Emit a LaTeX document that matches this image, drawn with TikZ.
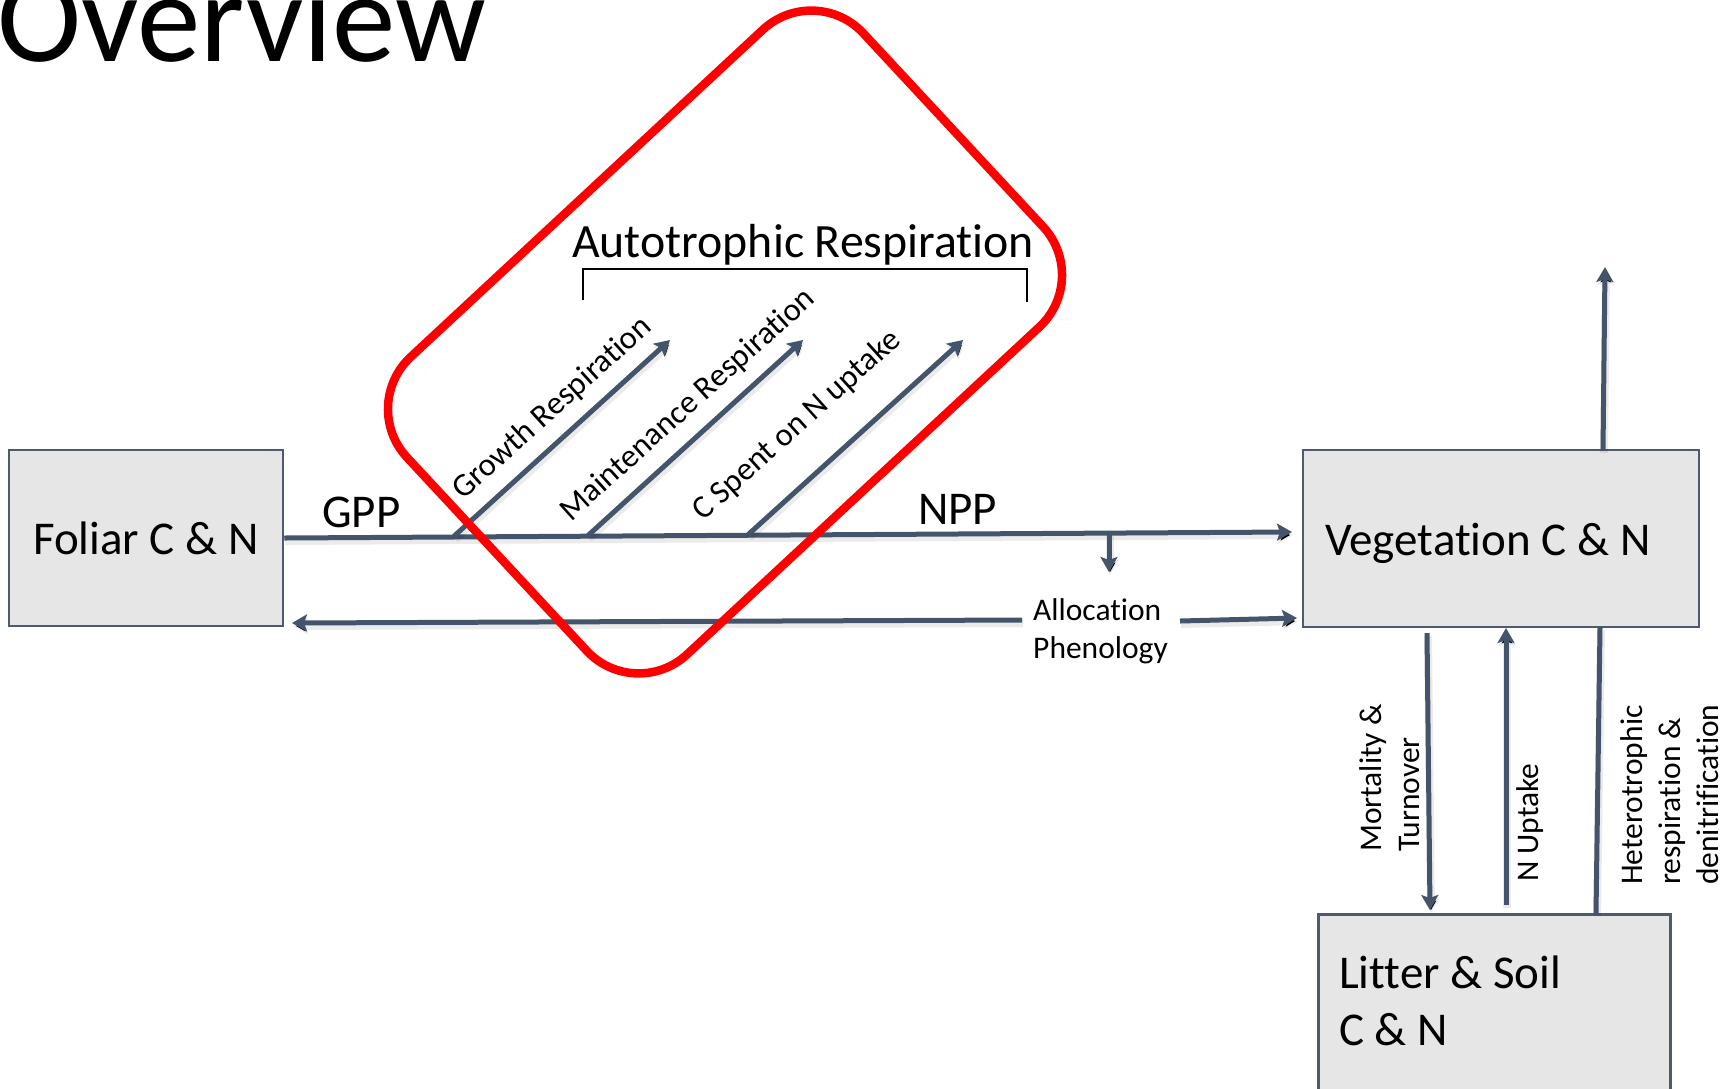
\documentclass[tikz,border=0pt]{standalone}
\usepackage{fontspec}
\setmainfont{Carlito}[RawFeature={-liga;-dlig;-clig}]
\usetikzlibrary{arrows.meta,calc}
\definecolor{slate}{HTML}{44546A}
\definecolor{boxfill}{HTML}{E6E6E6}
\definecolor{boxline}{HTML}{4E5B6F}
\definecolor{hilite}{HTML}{FF0000}
\begin{document}
\begin{tikzpicture}[x=1pt,y=-1pt,
  box/.style={draw=boxline,fill=boxfill,line width=2.5pt,inner sep=0pt},
  shade line/.style={preaction={draw=black,draw opacity=0.08,line width=8pt,transform canvas={shift={(1pt,-3pt)}}}},
  flow/.style={draw=slate,line width=5pt,-{Stealth[width=17pt,length=15pt,inset=3pt]},shade line},
  flowline/.style={draw=slate,line width=5pt,shade line},
  big/.style={font=\fontsize{47}{56}\selectfont,inner sep=0pt},
  small/.style={font=\fontsize{31.5}{38}\selectfont,inner sep=0pt},
  diag/.style={font=\fontsize{32.5}{38}\selectfont,inner sep=0pt,rotate=42},
]
\path[use as bounding box,clip] (0,0) rectangle (1736,1088);

% title
\node[font=\fontsize{127}{145}\selectfont,inner sep=0pt,anchor=base west] (title) at (-3,61) {Overview};

% boxes
\node[box,minimum width=274pt,minimum height=176pt,big] (foliar) at (146,538) {Foliar C \& N};
\node[box,minimum width=396pt,minimum height=177pt] (veg) at (1501,538.5) {};
\node[big,anchor=base west] (vegtxt) at (1325,555) {Vegetation C \& N};
\node[box,minimum width=352pt,minimum height=287pt,anchor=north west] (litter) at (1317,913) {};
\node[big,anchor=base west] (littxt1) at (1339,988) {Litter \& Soil};
\node[big,anchor=base west] (littxt2) at (1339,1045) {C \& N};

% labels
\node[big,anchor=base west] (gpp) at (322,527) {GPP};
\node[big,anchor=base west] (npp) at (918,524) {NPP};
\node[big,anchor=base west,font=\fontsize{47.8}{56}\selectfont] (autotitle) at (572,257) {Autotrophic Respiration};
\node[small,align=left] (alloc) at (1100.5,631.7) {Allocation\\Phenology};

% coordinates
\coordinate (mainend) at (1292,532);
\coordinate (g1) at (454,536.2);  \coordinate (g2) at (670,340);
\coordinate (m1) at (588,535.5);  \coordinate (m2) at (803,340);
\coordinate (c1) at (748,534.7);  \coordinate (c2) at (963,340);
\coordinate (a1) at (1109,533);   \coordinate (a2) at (1109,572);
\coordinate (bstart) at (1022,620); \coordinate (bend) at (292,623);
\coordinate (rstart) at (1180,621); \coordinate (rend) at (1297,618);
\coordinate (up1) at (1603,450);  \coordinate (up2) at (1605,267);
\coordinate (h1) at (1596,913);   \coordinate (h2) at (1600,627);
\coordinate (mt1) at (1427,633);  \coordinate (mt2) at (1430,910);
\coordinate (nu1) at (1506,905);  \coordinate (nu2) at (1506,628);
\coordinate (br1) at (583,300); \coordinate (br2) at (583,269);
\coordinate (br3) at (1027,269); \coordinate (br4) at (1027,302);

% connectors
\draw[flow] (foliar.east) -- (mainend);
\draw[flow] (g1) -- (g2);
\draw[flow] (m1) -- (m2);
\draw[flow] (c1) -- (c2);
\draw[flow] (a1) -- (a2);
\draw[flow] (bstart) -- (bend);
\draw[flow] (rstart) -- (rend);
\draw[flow] (up1) -- (up2);
\draw[flowline] (h1) -- (h2);
\draw[flow] (mt1) -- (mt2);
\draw[flow] (nu1) -- (nu2);
\draw[line width=2pt] (br1) -- (br2) -- (br3) -- (br4);

% diagonal labels
\node[diag] (lgrowth) at (552.5,408.5) {Growth Respiration};
\node[diag] (lmaint) at (688,405.5) {Maintenance Respiration};
\node[diag] (lcspent) at (797,425.5) {C Spent on N uptake};

% vertical labels
\node[small,rotate=90,align=left,anchor=west] (lmort) at (1390,852) {Mortality \&\\Turnover};
\node[small,rotate=90,anchor=west] (lnup) at (1530,882) {N Uptake};
\node[small,rotate=90,align=left,anchor=west] (lhet) at (1670,885) {Heterotrophic\\respiration \&\\denitrification};

% red highlight
\node[draw=hilite,line width=8.5pt,rounded corners=71pt,minimum width=623pt,minimum height=406pt,rotate=42.9,inner sep=0pt] (redbox) at (725,342) {};
\end{tikzpicture}
\end{document}
